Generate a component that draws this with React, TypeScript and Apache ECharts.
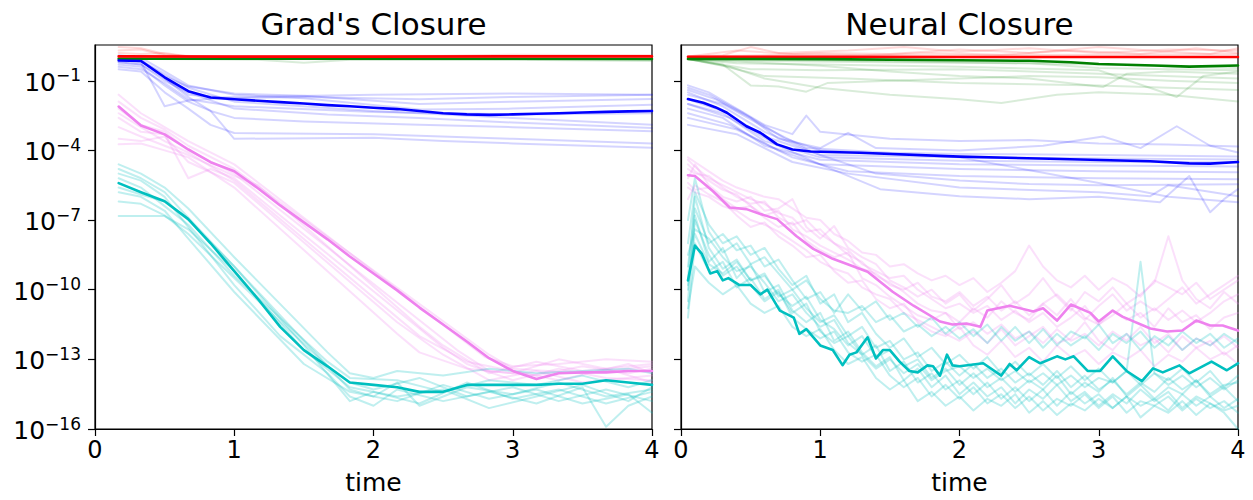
import React, { useEffect, useRef } from "react";
import * as echarts from "echarts";

// ---------- axis ticks ----------
const X_TICKS = [0, 1, 2, 3, 4];
const Y_TICK_EXPONENTS = [-16, -13, -10, -7, -4, -1];
const Y_MIN_EXP = -16;
const Y_MAX_EXP = 0.54;

// ---------- Grad's Closure (values are log10 of the error) ----------
const T_GRAD = [0.17, 0.33, 0.5, 0.67, 0.83, 1.0, 1.17, 1.33, 1.5, 1.67, 1.83, 2.0, 2.17, 2.33, 2.5, 2.67, 2.83, 3.0, 3.17, 3.33, 3.5, 3.67, 3.83, 4.0];

const GRAD_RED_MEAN = [[0.17, 0.05], [1, 0.04], [2, 0.04], [3, 0.05], [4, 0.05]];
const GRAD_GREEN_MEAN = [[0.17, -0.05], [1, -0.05], [2, -0.05], [3, -0.05], [4, -0.06]];
const GRAD_BLUE_MEAN = [-0.13, -0.15, -0.85, -1.45, -1.72, -1.8, -1.86, -1.92, -1.98, -2.05, -2.1, -2.16, -2.22, -2.3, -2.4, -2.45, -2.47, -2.45, -2.42, -2.4, -2.37, -2.34, -2.32, -2.3];
const GRAD_PINK_MEAN = [-2.11, -2.93, -3.31, -3.96, -4.51, -4.9, -5.63, -6.37, -7.1, -7.83, -8.57, -9.3, -10.03, -10.77, -11.5, -12.23, -12.95, -13.5, -13.85, -13.6, -13.56, -13.56, -13.5, -13.5];
const GRAD_CYAN_MEAN = [-5.41, -5.8, -6.19, -6.96, -8.0, -9.2, -10.4, -11.6, -12.6, -13.3, -14.0, -14.1, -14.2, -14.4, -14.4, -14.1, -14.1, -14.1, -14.1, -14.05, -14.05, -13.9, -14.0, -14.1];

const GRAD_RED_RUNS = [
  [[0.17, 0.45], [0.33, 0.4], [0.5, 0.15], [0.67, 0.06], [4, 0.06]],
  [[0.17, 0.3], [0.33, 0.35], [0.5, 0.1], [0.83, 0.05], [2.5, 0.08], [3, 0.12], [4, 0.1]],
  [[0.17, 0.2], [0.33, 0.15], [0.5, 0.2], [0.67, 0.05], [4, 0.05]],
];
const GRAD_GREEN_RUNS = [
  [[0.17, -0.05], [1.17, -0.1], [1.5, -0.22], [1.83, -0.1], [4, -0.08]],
  [[0.17, -0.05], [3, -0.1], [4, -0.15]],
];
const GRAD_BLUE_RUNS = [
  [[0.17, -0.1], [0.33, -0.2], [0.5, -2.1], [0.67, -1.85], [1, -1.7], [2, -1.6], [3, -1.55], [4, -1.6]],
  [[0.17, -0.3], [0.33, -0.4], [0.5, -1.2], [0.67, -1.9], [0.83, -2.3], [1.0, -3.5], [2, -3.45], [2.5, -3.6], [3, -3.7], [4, -3.89]],
  [[0.17, -0.5], [0.33, -0.6], [0.5, -1.5], [0.67, -2.2], [0.83, -2.9], [1.0, -3.25], [2, -3.3], [3, -3.5], [4, -3.7]],
  [[0.17, 0], [0.33, -0.1], [0.5, -0.9], [0.67, -1.7], [0.83, -2.3], [1, -2.6], [1.5, -2.75], [2.33, -2.89], [3, -3.0], [4, -3.17]],
  [[0.17, -0.2], [0.33, -0.3], [0.5, -1.0], [0.67, -1.5], [1, -2.2], [1.67, -2.45], [2.33, -2.6], [3, -2.8], [4, -3.03]],
  [[0.17, -0.1], [0.33, -0.15], [0.5, -0.7], [0.67, -1.3], [1, -1.9], [2, -2.3], [3, -2.6], [4, -2.89]],
  [[0.17, 0.1], [0.33, 0], [0.5, -0.6], [0.67, -1.2], [1, -1.6], [1.5, -1.75], [2.33, -2.24], [3, -2.2], [4, -2.03]],
  [[0.17, -0.05], [0.33, -0.1], [0.5, -0.8], [0.67, -1.25], [1, -1.55], [1.5, -1.65], [2.33, -2.0], [3, -1.9], [4, -1.79]],
  [[0.17, -0.2], [0.33, -0.3], [0.5, -0.9], [0.67, -1.6], [1, -1.75], [1.5, -1.7], [2.33, -1.8], [3, -1.7], [4, -1.6]],
  [[0.17, -0.4], [0.33, -0.5], [0.5, -1.1], [0.67, -1.8], [1, -2.1], [2, -2.35], [3, -2.45], [4, -2.4]],
];
const GRAD_PINK_RUNS = [
  [[0.17, -1.6], [0.33, -2.4], [0.5, -3.0], [0.67, -3.6], [1, -4.6], [2.8, -12.9], [3, -13.3], [3.33, -13.2], [3.67, -13.0], [4, -13.1]],
  [[0.17, -2.2], [0.33, -2.9], [0.5, -3.2], [0.67, -4.0], [1, -5.0], [2.6, -12.6], [2.83, -13.5], [3.17, -13.7], [3.5, -13.3], [3.83, -13.6], [4, -13.4]],
  [[0.17, -2.6], [0.33, -3.2], [0.5, -3.3], [0.67, -5.2], [0.83, -4.8], [1, -5.2], [2.5, -12.5], [2.67, -13.2], [3, -13.9], [3.33, -13.4], [3.67, -13.8], [4, -13.9]],
  [[0.17, -3.0], [0.33, -3.4], [0.5, -3.8], [0.67, -4.2], [1, -5.1], [1.17, -5.5], [2.33, -11.6], [2.5, -12.4], [2.83, -13.6], [3.17, -13.1], [3.5, -13.5], [4, -13.2]],
  [[0.17, -3.5], [0.33, -3.6], [0.5, -3.4], [0.67, -4.5], [1, -5.4], [2.17, -11.4], [2.5, -12.8], [2.83, -13.9], [3.17, -13.5], [3.5, -14.0], [4, -13.7]],
  [[0.17, -3.74], [0.33, -3.7], [0.5, -4.0], [0.67, -4.3], [1, -5.6], [2.17, -11.9], [2.33, -12.7], [2.67, -13.4], [3, -13.6], [3.33, -13.0], [3.67, -13.4], [4, -14.0]],
  [[0.17, -1.9], [0.33, -2.6], [0.5, -3.1], [0.67, -3.8], [1, -4.8], [2.83, -12.8], [3.0, -13.4], [3.5, -13.6], [4, -13.3]],
  [[0.17, -2.4], [0.33, -3.0], [0.5, -3.6], [0.67, -4.1], [1, -5.3], [2.33, -12.0], [2.67, -13.1], [3, -13.5], [3.33, -13.9], [3.83, -13.2], [4, -13.6]],
];
const GRAD_CYAN_RUNS = [
  [[0.17, -4.6], [0.33, -5.0], [0.5, -5.6], [0.67, -6.5], [1, -8.6], [1.67, -12.7], [1.83, -13.6], [2, -13.8], [2.17, -13.5], [2.5, -13.7], [2.83, -13.4], [3.17, -13.6], [3.5, -13.5], [3.83, -13.4], [4, -13.6]],
  [[0.17, -4.8], [0.33, -5.2], [0.5, -5.8], [0.67, -6.9], [1, -9.0], [1.5, -12.2], [1.83, -14.3], [2, -14.6], [2.17, -14.0], [2.33, -15.0], [2.67, -14.2], [3, -14.5], [3.33, -14.0], [3.67, -14.6], [4, -14.3]],
  [[0.17, -5.0], [0.33, -5.3], [0.5, -6.0], [0.67, -7.3], [1, -9.8], [1.33, -12.0], [1.67, -13.6], [1.83, -14.6], [2, -15.0], [2.17, -14.3], [2.5, -14.8], [2.83, -14.4], [3.17, -14.9], [3.5, -14.2], [3.67, -15.9], [3.83, -15.0], [4, -14.6]],
  [[0.17, -5.8], [0.33, -6.0], [0.5, -6.6], [0.67, -7.8], [1, -10.1], [1.5, -13.2], [1.83, -14.4], [2.17, -14.8], [2.5, -14.1], [2.83, -14.7], [3.17, -14.3], [3.5, -14.9], [3.83, -14.5], [4, -15.3]],
  [[0.17, -6.2], [0.33, -6.3], [0.5, -6.8], [0.67, -7.6], [1, -9.5], [1.67, -13.3], [1.83, -14.0], [2, -14.3], [2.33, -13.8], [2.67, -14.6], [3, -14.2], [3.33, -14.8], [3.67, -14.3], [4, -14.8]],
  [[0.17, -6.83], [0.33, -6.83], [0.5, -6.83], [0.67, -7.4], [1, -9.2], [1.5, -12.6], [1.83, -14.2], [2.17, -14.6], [2.5, -14.3], [2.83, -15.1], [3.17, -14.6], [3.5, -14.1], [3.83, -14.8], [4, -14.2]],
  [[0.17, -5.2], [0.33, -5.6], [0.5, -6.4], [0.67, -7.2], [1, -9.4], [1.67, -13.1], [1.83, -13.8], [2.17, -13.9], [2.5, -14.4], [2.83, -13.9], [3.17, -14.1], [3.5, -13.7], [3.83, -14.2], [4, -13.9]],
  [[0.17, -5.6], [0.33, -5.9], [0.5, -6.2], [0.67, -7.0], [1, -9.0], [1.5, -12.4], [1.83, -14.8], [2, -14.4], [2.33, -14.9], [2.67, -14.0], [3, -14.7], [3.33, -14.3], [3.67, -14.9], [4, -14.4]],
];

// ---------- Neural Closure ----------
const T_NEURAL = [0.05, 0.1, 0.2, 0.3, 0.4, 0.5, 0.6, 0.7, 0.8, 0.9, 1.0, 1.1, 1.2, 1.3, 1.4, 1.5, 1.6, 1.7, 1.8, 1.9, 2.0, 2.1, 2.2, 2.3, 2.4, 2.5, 2.6, 2.7, 2.8, 2.9, 3.0, 3.1, 3.2, 3.3, 3.4, 3.5, 3.6, 3.7, 3.8, 3.9, 4.0];

const NEURAL_RED_MEAN = [[0.05, 0.03], [1, 0.03], [2, 0.02], [3, 0.02], [4, 0.02]];
const NEURAL_GREEN_MEAN = [[0.05, -0.06], [1, -0.07], [2, -0.12], [2.5, -0.14], [2.8, -0.2], [3, -0.28], [3.4, -0.34], [3.65, -0.39], [4, -0.34]];
const NEURAL_BLUE_MEAN = [[0.05, -1.79], [0.16, -1.95], [0.25, -2.15], [0.33, -2.38], [0.47, -2.96], [0.57, -3.24], [0.69, -3.74], [0.8, -3.96], [0.93, -4.05], [1.28, -4.1], [2, -4.27], [2.65, -4.36], [3.37, -4.47], [3.65, -4.56], [3.8, -4.57], [4, -4.5]];
const NEURAL_PINK_MEAN = [[0.05, -5.07], [0.1, -5.1], [0.16, -5.4], [0.23, -5.76], [0.35, -6.46], [0.47, -6.53], [0.57, -6.74], [0.69, -6.96], [0.83, -7.7], [0.95, -8.24], [1.09, -8.67], [1.24, -9.0], [1.34, -9.23], [1.52, -10.09], [1.67, -10.69], [1.86, -11.37], [1.95, -11.5], [2.05, -11.46], [2.15, -11.6], [2.2, -10.9], [2.36, -10.69], [2.53, -10.94], [2.6, -10.8], [2.7, -11.33], [2.8, -10.64], [2.94, -11.0], [3.0, -11.37], [3.1, -10.9], [3.17, -11.16], [3.37, -11.67], [3.49, -11.8], [3.6, -11.76], [3.7, -11.33], [3.8, -11.54], [3.89, -11.54], [4.0, -11.76]];
const NEURAL_CYAN_MEAN = [[0.05, -9.6], [0.1, -8.1], [0.15, -8.46], [0.21, -9.3], [0.26, -9.2], [0.3, -9.6], [0.34, -9.5], [0.42, -9.8], [0.5, -9.8], [0.57, -10.2], [0.62, -10.0], [0.71, -10.9], [0.81, -11.2], [0.85, -11.9], [0.9, -11.7], [1.0, -12.4], [1.09, -12.6], [1.16, -13.25], [1.21, -12.8], [1.26, -12.7], [1.34, -12.05], [1.4, -12.96], [1.45, -12.6], [1.5, -12.6], [1.57, -13.1], [1.64, -13.5], [1.7, -13.56], [1.77, -13.26], [1.81, -13.3], [1.86, -13.7], [1.91, -12.8], [1.95, -13.26], [2.0, -13.3], [2.17, -13.17], [2.3, -13.7], [2.36, -13.2], [2.41, -13.47], [2.5, -12.9], [2.58, -13.17], [2.7, -12.87], [2.76, -13.0], [2.82, -12.87], [2.92, -13.5], [3.01, -13.5], [3.1, -12.87], [3.2, -13.5], [3.31, -13.94], [3.39, -13.39], [3.46, -13.56], [3.58, -13.26], [3.65, -13.6], [3.81, -13.1], [3.92, -13.47], [4.0, -13.17]];

const NEURAL_RED_RUNS = [
  [[0.05, 0.05], [0.3, 0.1], [0.5, 0.45], [0.7, 0.2], [1.2, 0.3], [1.6, 0.45], [2, 0.25], [2.5, 0.4], [3, 0.2], [3.5, 0.35], [4, 0.3]],
  [[0.05, 0.03], [0.6, 0.1], [1, 0.2], [1.5, 0.15], [2, 0.35], [2.5, 0.2], [3, 0.45], [3.5, 0.25], [3.8, 0.15], [4, 0.4]],
  [[0.05, 0.02], [1, 0.08], [2, 0.1], [3, 0.12], [4, 0.15]],
  [[0.05, 0.04], [0.4, 0.3], [0.8, 0.15], [1.3, 0.1], [1.8, 0.2], [2.3, 0.12], [2.8, 0.3], [3.3, 0.15], [3.7, 0.4], [4, 0.2]],
];
const NEURAL_GREEN_RUNS = [
  [[0.05, -0.06], [0.3, -0.3], [0.5, -1.2], [0.7, -1.25], [0.9, -1.47], [1.05, -1.1], [1.5, -1.0], [2, -0.9], [2.5, -0.8], [3, -0.85], [3.5, -1.0], [4, -1.1]],
  [[0.05, -0.06], [0.35, -0.4], [0.6, -0.9], [1, -1.3], [1.5, -1.6], [2, -1.8], [2.3, -1.96], [2.7, -1.6], [3, -1.5], [3.5, -1.6], [4, -1.89]],
  [[0.05, -0.06], [0.5, -0.2], [1, -0.35], [1.5, -0.6], [2, -0.8], [2.5, -0.9], [3.03, -1.27], [3.2, -0.7], [3.5, -0.6], [4, -0.7]],
  [[0.05, -0.06], [0.4, -0.25], [1, -0.3], [2, -0.4], [3, -0.55], [3.56, -1.7], [3.75, -0.8], [4, -0.6]],
  [[0.05, -0.06], [0.6, -0.15], [1.5, -0.2], [2.5, -0.25], [3, -0.45], [3.5, -0.5], [4, -0.55]],
  [[0.05, -0.06], [0.5, -0.5], [1, -0.55], [2, -0.5], [3, -0.7], [4, -0.9]],
  [[0.05, -0.06], [1, -0.12], [2, -0.2], [3, -0.3], [4, -0.45]],
  [[0.05, -0.06], [0.3, -0.35], [0.6, -0.8], [1.2, -0.9], [2, -1.1], [3, -1.2], [4, -1.4]],
];
const NEURAL_BLUE_RUNS = [
  [[0.05, -1.2], [0.2, -1.5], [0.4, -2.2], [0.6, -2.9], [0.8, -3.3], [0.9, -2.5], [1.0, -3.2], [1.5, -3.5], [2, -3.6], [2.5, -3.55], [3, -3.7], [3.5, -3.75], [4, -3.83]],
  [[0.05, -1.4], [0.25, -1.8], [0.5, -2.6], [0.7, -3.5], [1, -3.9], [1.2, -3.24], [1.4, -3.9], [2, -4.0], [2.6, -3.8], [3.03, -3.4], [3.3, -3.9], [3.56, -2.96], [3.8, -3.8], [4, -4.09]],
  [[0.05, -1.6], [0.3, -2.0], [0.6, -3.0], [0.9, -3.9], [1.5, -4.1], [2, -4.15], [3, -4.2], [4, -4.26]],
  [[0.05, -1.8], [0.3, -2.3], [0.6, -3.4], [1, -4.2], [2, -4.3], [3, -4.35], [4, -4.39]],
  [[0.05, -2.0], [0.3, -2.4], [0.6, -3.6], [1, -4.3], [2, -4.45], [3, -4.5], [4, -4.51]],
  [[0.05, -2.2], [0.3, -2.6], [0.6, -3.8], [1, -4.4], [2, -4.6], [3, -4.65], [4, -4.69]],
  [[0.05, -2.4], [0.35, -2.9], [0.7, -4.0], [1, -4.6], [2, -4.8], [3, -4.9], [4, -4.94]],
  [[0.05, -2.6], [0.4, -3.1], [0.8, -4.3], [1.2, -4.9], [2, -5.1], [3, -5.2], [4, -5.24]],
  [[0.05, -1.5], [0.3, -2.1], [0.6, -3.2], [1, -4.2], [1.4, -5.0], [2, -5.3], [2.5, -5.45], [3, -5.5], [4, -5.46]],
  [[0.05, -2.0], [0.35, -2.6], [0.7, -3.8], [1, -4.6], [1.43, -5.67], [2, -5.97], [2.5, -6.1], [3, -6.0], [3.44, -6.23], [3.65, -5.1], [3.8, -6.66], [3.9, -6.1], [4, -5.67]],
  [[0.05, -2.9], [0.4, -3.3], [0.8, -4.5], [1.2, -5.0], [2, -5.6], [3, -5.8], [3.37, -5.97], [3.5, -5.5], [4, -5.97]],
  [[0.05, -1.3], [0.2, -1.6], [0.45, -2.4], [0.75, -3.5], [1.0, -4.0], [2, -4.3], [3, -5.4], [3.5, -6.0], [4, -6.23]],
];
// sampled on T_NEURAL
const NEURAL_PINK_RUNS = [
  [-4.3, -4.5, -4.9, -5.3, -5.6, -5.8, -6.0, -6.1, -6.5, -6.9, -7.0, -7.6, -7.9, -8.4, -8.5, -9.0, -8.9, -9.3, -9.6, -9.4, -9.8, -9.5, -10.1, -9.7, -9.2, -8.1, -9.0, -9.6, -9.9, -9.4, -10.0, -9.5, -9.8, -10.3, -9.6, -9.9, -10.2, -9.7, -10.4, -10.0, -9.6],
  [-4.8, -5.0, -5.1, -5.6, -6.0, -6.3, -6.2, -6.9, -7.2, -7.0, -7.6, -8.0, -8.5, -8.8, -9.4, -9.7, -10.1, -10.6, -10.9, -11.0, -11.4, -10.8, -11.2, -10.5, -11.0, -11.3, -10.6, -11.1, -10.4, -11.2, -11.5, -10.9, -11.3, -11.0, -11.6, -10.8, -11.4, -11.1, -11.7, -11.2, -11.0],
  [-5.2, -4.6, -5.5, -6.0, -6.2, -6.0, -6.6, -6.5, -6.1, -7.3, -7.8, -7.26, -8.2, -8.6, -8.9, -9.6, -9.9, -10.3, -10.0, -10.6, -10.2, -10.9, -10.4, -9.8, -10.6, -10.2, -9.5, -10.3, -10.9, -10.1, -10.5, -9.9, -10.6, -10.2, -9.7, -7.7, -9.6, -10.4, -10.8, -10.1, -10.6],
  [-5.6, -5.8, -6.0, -6.4, -6.6, -7.0, -7.2, -7.5, -7.9, -8.3, -8.8, -9.1, -9.3, -9.9, -10.2, -10.4, -11.0, -11.3, -11.6, -11.9, -12.2, -11.8, -12.3, -11.7, -12.4, -12.0, -11.6, -12.3, -12.1, -11.4, -12.2, -12.6, -11.9, -12.4, -12.1, -12.7, -12.0, -12.5, -12.2, -12.8, -12.4],
  [-6.1, -5.5, -5.9, -6.2, -6.8, -7.3, -7.1, -7.7, -8.1, -8.6, -8.5, -9.2, -9.7, -9.6, -10.4, -10.8, -10.6, -11.4, -11.8, -12.0, -11.6, -12.4, -12.8, -12.2, -12.9, -12.5, -13.1, -12.4, -12.9, -12.6, -13.2, -12.7, -13.0, -12.6, -13.3, -12.8, -13.1, -12.5, -13.0, -12.7, -13.2],
  [-4.6, -4.9, -5.3, -5.7, -5.9, -6.4, -6.8, -6.6, -7.4, -7.7, -8.1, -8.4, -8.7, -9.1, -9.3, -9.8, -10.0, -9.7, -10.3, -10.5, -10.1, -10.7, -10.3, -10.9, -10.5, -11.1, -10.6, -10.2, -10.8, -11.3, -10.7, -10.2, -10.9, -10.5, -10.9, -10.4, -9.9, -10.6, -10.2, -9.8, -9.4],
  [-5.4, -5.7, -5.6, -6.1, -6.5, -6.4, -6.9, -7.3, -7.1, -7.9, -8.3, -8.6, -8.4, -9.5, -9.8, -10.3, -10.7, -11.1, -11.3, -11.0, -11.7, -11.4, -11.9, -11.5, -12.1, -11.8, -12.3, -11.7, -12.2, -11.9, -12.4, -11.8, -12.2, -11.6, -12.3, -11.9, -12.6, -12.1, -12.4, -12.0, -12.5],
  [-4.4, -4.7, -5.2, -5.5, -5.8, -6.1, -6.3, -6.7, -6.9, -7.5, -7.4, -8.0, -8.3, -8.9, -9.2, -9.5, -9.4, -10.0, -10.4, -10.8, -10.6, -11.0, -10.7, -11.3, -10.9, -11.4, -11.0, -11.6, -11.2, -10.7, -11.5, -11.1, -10.6, -11.2, -10.8, -11.3, -10.9, -11.4, -11.0, -10.5, -10.2],
];
const NEURAL_CYAN_RUNS = [
  [-7.0, -5.2, -7.5, -8.4, -8.0, -8.9, -8.6, -9.3, -10.0, -9.6, -10.4, -10.9, -11.0, -10.7, -11.4, -11.1, -11.8, -11.5, -12.0, -11.6, -12.1, -11.7, -12.3, -11.6, -12.2, -11.8, -12.5, -11.9, -12.4, -12.0, -12.6, -11.9, -12.3, -11.8, -12.5, -12.0, -12.6, -12.1, -12.4, -11.9, -12.3],
  [-9.5, -6.0, -8.2, -9.1, -8.7, -9.6, -9.4, -10.2, -10.7, -10.3, -11.3, -11.7, -12.4, -12.0, -12.9, -12.6, -13.3, -13.0, -13.8, -13.4, -14.1, -13.6, -14.2, -13.8, -14.4, -13.9, -14.3, -13.7, -14.5, -14.0, -14.4, -13.8, -14.6, -14.1, -14.7, -14.2, -14.5, -13.9, -14.6, -14.2, -14.8],
  [-10.5, -6.8, -8.8, -8.2, -9.5, -8.9, -10.1, -9.8, -10.9, -11.4, -11.0, -12.2, -11.8, -12.7, -13.3, -12.9, -13.9, -13.4, -14.2, -13.7, -14.5, -14.0, -14.6, -14.2, -14.9, -14.3, -14.7, -14.1, -14.8, -14.4, -15.0, -14.5, -14.9, -14.3, -14.8, -14.4, -15.1, -14.6, -14.9, -15.3, -16.0],
  [-8.5, -7.4, -7.8, -8.6, -9.2, -9.0, -9.7, -10.5, -10.2, -11.0, -11.6, -11.3, -12.3, -12.8, -12.4, -13.5, -13.1, -14.0, -13.6, -14.3, -13.9, -14.5, -14.0, -14.7, -14.2, -14.8, -14.3, -15.0, -14.4, -14.9, -14.5, -15.1, -14.6, -15.0, -14.7, -15.2, -14.5, -15.0, -14.6, -15.1, -14.7],
  [-11.2, -8.0, -9.2, -8.8, -9.9, -9.5, -10.4, -10.0, -11.2, -11.7, -12.1, -11.8, -12.7, -13.1, -12.8, -13.7, -14.2, -13.8, -14.6, -14.1, -14.7, -14.2, -14.9, -14.5, -15.1, -14.6, -15.2, -14.7, -15.0, -14.5, -15.1, -14.6, -15.3, -14.8, -15.0, -14.6, -15.2, -14.7, -15.1, -14.8, -15.3],
  [-9.0, -6.5, -8.0, -7.6, -8.3, -8.1, -9.0, -8.7, -9.6, -10.4, -10.1, -11.0, -10.2, -10.9, -10.5, -11.3, -11.0, -11.6, -11.2, -11.9, -11.4, -12.0, -11.5, -12.2, -11.6, -12.3, -11.7, -12.4, -11.8, -12.1, -11.5, -12.3, -11.9, -12.6, -12.0, -12.4, -11.8, -12.3, -11.9, -12.5, -12.1],
  [-10.0, -7.0, -8.5, -9.4, -9.0, -9.8, -10.5, -10.1, -11.0, -10.6, -11.8, -12.3, -12.0, -12.8, -13.4, -13.0, -13.6, -13.2, -13.9, -13.5, -13.3, -13.8, -13.4, -13.9, -13.5, -14.0, -13.6, -14.1, -13.7, -14.2, -13.8, -14.0, -13.5, -8.8, -13.6, -14.1, -13.7, -14.2, -13.8, -14.3, -13.9],
  [-8.0, -5.8, -7.2, -8.0, -7.7, -8.5, -8.2, -9.1, -9.8, -9.4, -10.6, -10.2, -11.4, -11.0, -11.9, -12.5, -12.1, -12.9, -12.5, -13.2, -12.8, -13.4, -12.9, -13.6, -13.1, -13.7, -13.2, -13.8, -13.3, -13.9, -13.4, -14.0, -13.5, -14.1, -13.6, -13.9, -13.4, -14.0, -13.5, -14.2, -13.7],
  [-10.8, -9.0, -9.7, -10.2, -9.8, -10.6, -11.0, -10.7, -11.6, -12.0, -11.7, -12.6, -13.2, -12.9, -13.8, -14.3, -13.9, -14.8, -14.4, -15.0, -14.6, -15.2, -14.7, -15.0, -14.5, -15.3, -14.8, -15.4, -14.9, -15.2, -14.7, -15.1, -14.6, -15.5, -15.0, -15.3, -14.8, -15.4, -14.9, -15.2, -15.0],
  [-9.8, -7.6, -8.9, -9.3, -8.8, -9.6, -9.3, -10.3, -10.0, -10.8, -11.4, -11.1, -12.0, -11.6, -12.5, -12.2, -13.0, -12.7, -13.5, -13.1, -13.7, -13.2, -13.8, -13.4, -14.0, -13.6, -14.1, -13.5, -14.2, -13.7, -14.3, -13.9, -14.5, -14.0, -14.4, -13.8, -14.3, -13.9, -14.5, -14.1, -14.0],
];

const TITLES = ["Grad's Closure", "Neural Closure"];
const X_NAME = "time";

// ---------- styling ----------
const FONT = "DejaVu Sans";
const C = {
  red: "#ff0000",
  green: "#008000",
  blue: "#0000ff",
  pink: "#ee82ee",
  cyan: "#00bfbf",
};
const FAINT = {
  red: "rgba(255,0,0,0.15)",
  green: "rgba(0,128,0,0.15)",
  blue: "rgba(0,0,255,0.17)",
  pink: "rgba(238,130,238,0.25)",
  cyan: "rgba(0,191,191,0.25)",
};

const zip = (ts: number[], vs: number[]) => vs.map((v, i) => [ts[i], v]).filter((p) => p[0] !== undefined);

function lineSeries(data: number[][], color: string, width: number, panel: number, z: number) {
  return {
    type: "line",
    data,
    xAxisIndex: panel,
    yAxisIndex: panel,
    symbol: "none",
    showSymbol: false,
    silent: true,
    z,
    lineStyle: { color, width, cap: "round", join: "round" },
    itemStyle: { color },
    emphasis: { disabled: true },
    animation: false,
  };
}

function buildOption() {
  const series: any[] = [];
  const faint = (runs: number[][][], color: string, panel: number) =>
    runs.forEach((r) => series.push(lineSeries(r, color, 2, panel, 2)));
  faint(GRAD_RED_RUNS, FAINT.red, 0);
  faint(GRAD_GREEN_RUNS, FAINT.green, 0);
  faint(GRAD_BLUE_RUNS, FAINT.blue, 0);
  faint(GRAD_PINK_RUNS, FAINT.pink, 0);
  faint(GRAD_CYAN_RUNS, FAINT.cyan, 0);
  faint(NEURAL_RED_RUNS, FAINT.red, 1);
  faint(NEURAL_GREEN_RUNS, FAINT.green, 1);
  faint(NEURAL_BLUE_RUNS, FAINT.blue, 1);
  faint(NEURAL_PINK_RUNS.map((r) => zip(T_NEURAL, r)), FAINT.pink, 1);
  faint(NEURAL_CYAN_RUNS.map((r) => zip(T_NEURAL, r)), FAINT.cyan, 1);

  const W = 2.6;
  series.push(lineSeries(GRAD_GREEN_MEAN, C.green, W, 0, 5));
  series.push(lineSeries(GRAD_RED_MEAN, C.red, W, 0, 5));
  series.push(lineSeries(zip(T_GRAD, GRAD_BLUE_MEAN), C.blue, W, 0, 5));
  series.push(lineSeries(zip(T_GRAD, GRAD_PINK_MEAN), C.pink, W, 0, 5));
  series.push(lineSeries(zip(T_GRAD, GRAD_CYAN_MEAN), C.cyan, W, 0, 5));
  series.push(lineSeries(NEURAL_RED_MEAN, C.red, W, 1, 5));
  series.push(lineSeries(NEURAL_GREEN_MEAN, C.green, W, 1, 5));
  series.push(lineSeries(NEURAL_BLUE_MEAN, C.blue, W, 1, 5));
  series.push(lineSeries(NEURAL_PINK_MEAN, C.pink, W, 1, 5));
  series.push(lineSeries(NEURAL_CYAN_MEAN, C.cyan, W, 1, 5));

  const grids = [
    { left: 95, top: 45, width: 557, height: 385.7 },
    { left: 681, top: 45, width: 557, height: 385.7 },
  ].map((g) => ({ ...g, show: true, borderColor: "#000", borderWidth: 1.2, backgroundColor: "transparent" }));

  const xAxes = [0, 1].map((i) => ({
    type: "value",
    gridIndex: i,
    min: 0,
    max: 4,
    interval: 1,
    name: X_NAME,
    nameLocation: "middle",
    nameGap: 41,
    nameTextStyle: { fontFamily: FONT, fontSize: 25, color: "#000" },
    axisLine: { show: true, onZero: false, lineStyle: { color: "#000", width: 1.2 } },
    axisTick: { show: true, length: 7, lineStyle: { color: "#000", width: 1.2 } },
    axisLabel: {
      fontFamily: FONT,
      fontSize: 24,
      color: "#000",
      margin: 9,
      customValues: X_TICKS,
      formatter: (v: number) => String(v),
    },
    splitLine: { show: false },
  }));

  const yAxes = [0, 1].map((i) => ({
    type: "value",
    gridIndex: i,
    min: Y_MIN_EXP,
    max: Y_MAX_EXP,
    axisLine: { show: true, onZero: false, lineStyle: { color: "#000", width: 1.2 } },
    axisTick: {
      show: true,
      length: 7,
      customValues: Y_TICK_EXPONENTS,
      lineStyle: { color: "#000", width: 1.2 },
    },
    axisLabel: {
      show: i === 0,
      margin: 14,
      customValues: Y_TICK_EXPONENTS,
      formatter: (v: number) => `{b|10}{s|\u2212${Math.abs(v)}}`,
      rich: {
        b: { fontFamily: FONT, fontSize: 25, color: "#000", lineHeight: 28, verticalAlign: "bottom" },
        s: { fontFamily: FONT, fontSize: 17, color: "#000", lineHeight: 16, verticalAlign: "top" },
      },
    },
    splitLine: { show: false },
  }));

  return {
    animation: false,
    backgroundColor: "#ffffff",
    textStyle: { fontFamily: FONT },
    title: [
      { text: TITLES[0], left: 373.5, top: 8, textAlign: "center", padding: 0, textStyle: { fontFamily: FONT, fontSize: 31, fontWeight: "normal", color: "#000" } },
      { text: TITLES[1], left: 959.5, top: 8, textAlign: "center", padding: 0, textStyle: { fontFamily: FONT, fontSize: 31, fontWeight: "normal", color: "#000" } },
    ],
    grid: grids,
    xAxis: xAxes,
    yAxis: yAxes,
    series,
  };
}

export default function App() {
  const ref = useRef<HTMLDivElement>(null);
  useEffect(() => {
    if (!ref.current) return;
    const chart = echarts.init(ref.current, null, { renderer: "svg" });
    chart.setOption(buildOption() as any);
    return () => chart.dispose();
  }, []);
  return (
    <div
      ref={ref}
      style={{ position: "fixed", left: 0, top: 0, width: 1253, height: 500, background: "#fff" }}
    />
  );
}
